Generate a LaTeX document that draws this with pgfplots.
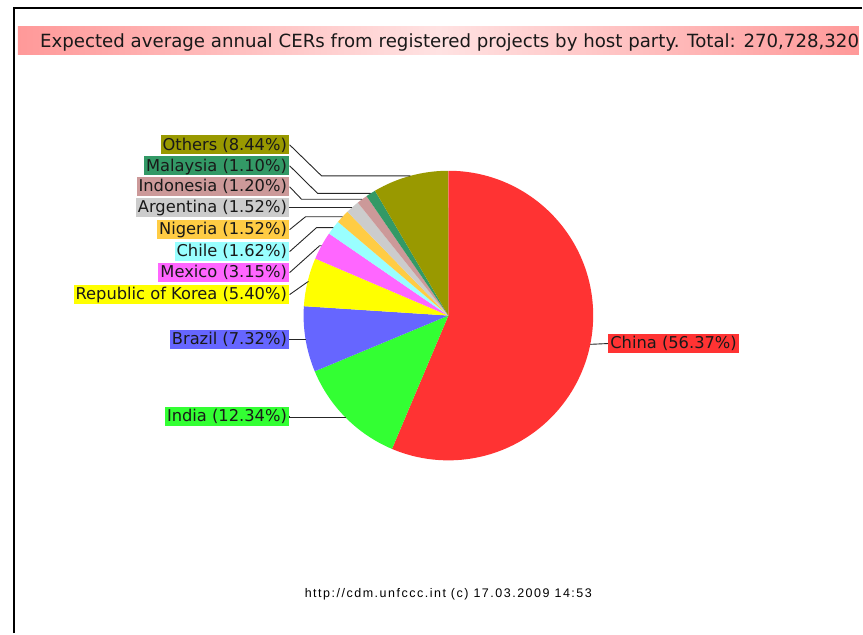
\documentclass[border=0pt]{standalone}
\usepackage{pgfplots}
\pgfplotsset{compat=1.18}
\usepackage{fontspec}
\setmainfont{DejaVu Sans}
\newfontfamily\footfont[LetterSpace=12.1]{Liberation Sans}
\definecolor{cChina}{HTML}{FF3333}
\definecolor{cIndia}{HTML}{33FF33}
\definecolor{cBrazil}{HTML}{6666FF}
\definecolor{cKorea}{HTML}{FFFF00}
\definecolor{cMexico}{HTML}{FF66FF}
\definecolor{cChile}{HTML}{99FFFF}
\definecolor{cNigeria}{HTML}{FFCC44}
\definecolor{cArgentina}{HTML}{CCCCCC}
\definecolor{cIndonesia}{HTML}{CC9999}
\definecolor{cMalaysia}{HTML}{339966}
\definecolor{cOthers}{HTML}{999900}
\definecolor{tEdge}{HTML}{FF9999}
\definecolor{tMid}{HTML}{FFE2E2}

\gdef\cumpct{0}
% pie centre (449,318) in picture units, radius 145
\newcommand\pieslice[2]{%
  \pgfmathsetmacro\sa{90-3.6*\cumpct}%
  \pgfmathsetmacro\ea{90-3.6*(\cumpct+#1)}%
  \pgfmathsetmacro\ma{(\sa+\ea)/2}%
  \pgfmathsetmacro\sx{449+145*cos(\sa)}%
  \pgfmathsetmacro\sy{318+145*sin(\sa)}%
  \pgfmathsetmacro\ex{449+145*cos(\ma)}%
  \pgfmathsetmacro\ey{318+145*sin(\ma)}%
  \pgfmathsetmacro\newcum{\cumpct+#1}%
  \xdef\cumpct{\newcum}%
  \xdef\edgex{\ex}\xdef\edgey{\ey}%
  \edef\temp{\noexpand\fill[#2] (axis cs:449,318) -- (axis cs:\sx,\sy) arc[start angle=\sa, end angle=\ea, radius=145pt] -- cycle;}\temp
}
\newcommand\leftlabel[4]{%
  \pgfmathsetmacro\ly{634-#3}%
  \edef\temp{\noexpand\draw[leader] (axis cs:\edgex,\edgey) -- (axis cs:#4,\edgey) -- (axis cs:290,\ly);}\temp
  \edef\temp{\noexpand\node[lbl,fill=#2,anchor=east] at (axis cs:289.5,\ly)}\temp{#1};
}
\newcommand\rightlabel[3]{%
  \pgfmathsetmacro\ly{634-#3}%
  \edef\temp{\noexpand\draw[leader] (axis cs:\edgex,\edgey) -- (axis cs:609,\ly);}\temp
  \edef\temp{\noexpand\node[lbl,fill=#2,anchor=west] at (axis cs:609,\ly)}\temp{#1};
}

\begin{document}
\begin{tikzpicture}[
  leader/.style={draw=black!85, line width=0.9pt},
  lbl/.style={inner xsep=2pt, inner ysep=1.75pt, text height=13pt, text depth=2.5pt,
              font=\fontsize{16.3}{18}\selectfont, text=black!90}]
\begin{axis}[x=1pt, y=1pt, xmin=0, xmax=863, ymin=0, ymax=634,
  hide axis, clip=false]
\path (axis cs:0,0) rectangle (axis cs:863,634);
% frame
\draw[line width=2.4pt, line join=miter] (axis cs:13.9,0) -- (axis cs:13.9,626.1) -- (axis cs:863,626.1);
% title
\shade[left color=tEdge, right color=tEdge, middle color=tMid] (axis cs:18,607) rectangle (axis cs:860,579);
\node[anchor=base west, inner sep=0pt, font=\fontsize{18.2}{20}\selectfont, text=black!90] at (axis cs:40,586) {Expected average annual CERs from registered projects by host party. Total: 270,728,320};
% pie (percentages of the total)
\pieslice{56.37}{cChina}
\rightlabel{China (56.37\%)}{cChina}{344}
\pieslice{12.34}{cIndia}
\leftlabel{India (12.34\%)}{cIndia}{417}{290}
\pieslice{7.32}{cBrazil}
\leftlabel{Brazil (7.32\%)}{cBrazil}{340}{290}
\pieslice{5.40}{cKorea}
\leftlabel{Republic of Korea (5.40\%)}{cKorea}{295}{308}
\pieslice{3.15}{cMexico}
\leftlabel{Mexico (3.15\%)}{cMexico}{273}{320}
\pieslice{1.62}{cChile}
\leftlabel{Chile (1.62\%)}{cChile}{252}{317}
\pieslice{1.52}{cNigeria}
\leftlabel{Nigeria (1.52\%)}{cNigeria}{230}{306}
\pieslice{1.52}{cArgentina}
\leftlabel{Argentina (1.52\%)}{cArgentina}{208}{290}
\pieslice{1.20}{cIndonesia}
\leftlabel{Indonesia (1.20\%)}{cIndonesia}{187}{302}
\pieslice{1.10}{cMalaysia}
\leftlabel{Malaysia (1.10\%)}{cMalaysia}{166}{318}
\pieslice{8.44}{cOthers}
\leftlabel{Others (8.44\%)}{cOthers}{145}{322}
% footer
\node[anchor=base west, inner sep=0pt, font=\footfont\fontsize{12.5}{14}\selectfont] at (axis cs:305,36) {http://cdm.unfccc.int (c) 17.03.2009 14:53};
\end{axis}
\end{tikzpicture}
\end{document}
